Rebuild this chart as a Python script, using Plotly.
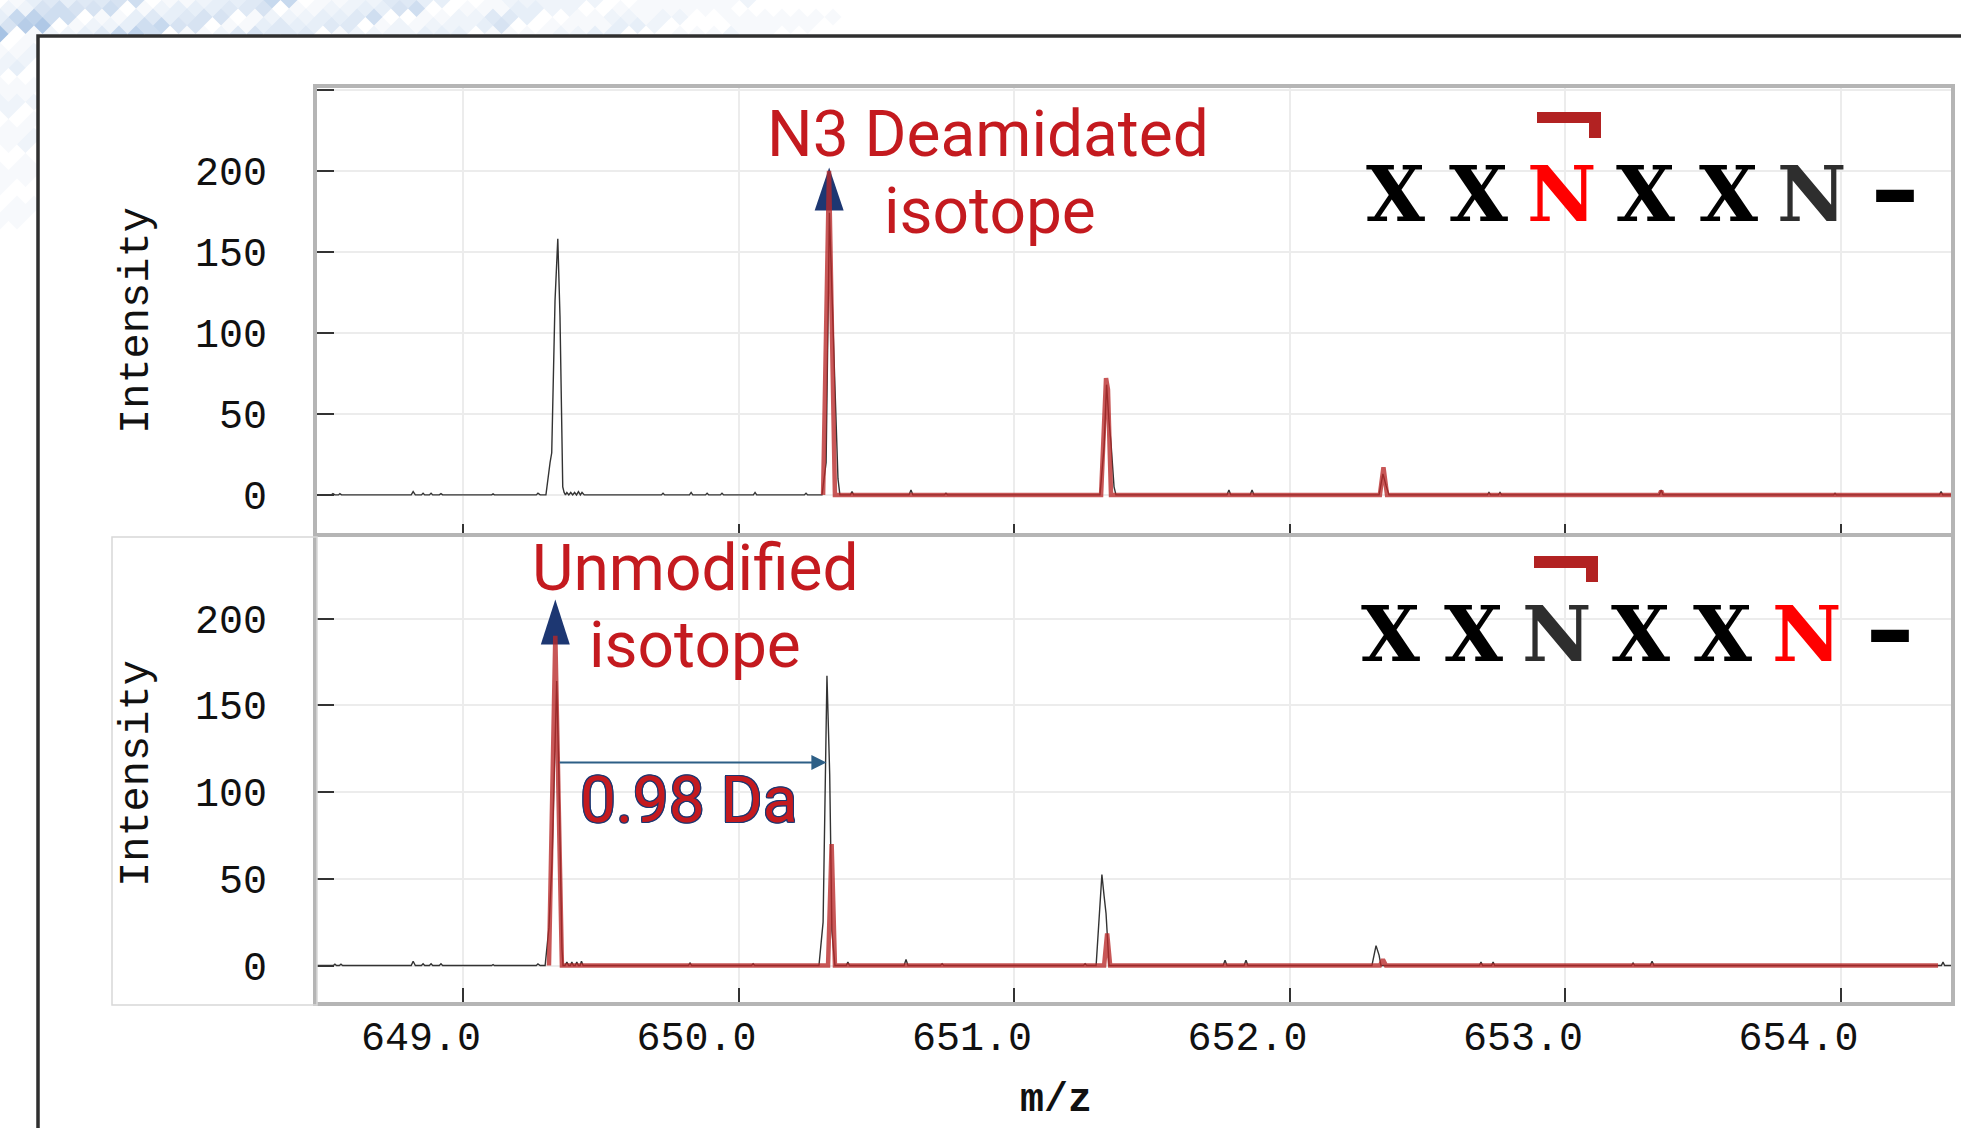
import plotly.graph_objects as go

W, H = 1961, 1128

# ---------------- data (m/z, intensity) ----------------
TOP_EXP = [
    (648.470, 0), (648.522, 0), (648.528, 0.8), (648.535, 0), (648.548, 0), (648.553, 0.8), (648.559, 0),
    (648.812, 0), (648.819, 2.0), (648.827, 0), (648.849, 0), (648.855, 1.0), (648.861, 0),
    (648.878, 0), (648.884, 1.0), (648.890, 0), (648.914, 0), (648.920, 0.8), (648.926, 0),
    (649.104, 0), (649.109, 0.6), (649.114, 0), (649.266, 0), (649.272, 1.0), (649.280, 0),
    (649.301, 0), (649.316, 20), (649.322, 26), (649.334, 120), (649.344, 158), (649.352, 110),
    (649.362, 5), (649.367, 1.5), (649.372, 0), (649.377, 1.5), (649.384, 0), (649.391, 1.5),
    (649.398, 0), (649.405, 1.5), (649.412, 0), (649.419, 2.0), (649.426, 0), (649.432, 1.5), (649.440, 0),
    (649.720, 0), (649.726, 1.0), (649.732, 0), (649.822, 0), (649.828, 1.5), (649.834, 0),
    (649.880, 0), (649.886, 1.0), (649.892, 0), (649.934, 0), (649.940, 1.0), (649.946, 0),
    (650.054, 0), (650.060, 1.5), (650.066, 0), (650.239, 0), (650.245, 1.0), (650.251, 0),
    (650.303, 0), (650.318, 20), (650.330, 174), (650.339, 120), (650.350, 67), (650.361, 10), (650.368, 0),
    (650.406, 0), (650.412, 2.0), (650.418, 0), (650.619, 0), (650.626, 3.0), (650.633, 0),
    (650.747, 0), (650.753, 1.0), (650.759, 0),
    (651.312, 0), (651.327, 30), (651.336, 68), (651.345, 45), (651.352, 32), (651.363, 5), (651.370, 0),
    (651.773, 0), (651.780, 3.0), (651.787, 0), (651.857, 0), (651.864, 3.0), (651.871, 0),
    (652.325, 0), (652.339, 13), (652.350, 6), (652.361, 0),
    (652.718, 0), (652.724, 1.5), (652.730, 0), (652.758, 0), (652.764, 1.5), (652.770, 0),
    (653.342, 0), (653.349, 3.0), (653.356, 0), (653.975, 0), (653.980, 1.0), (653.985, 0),
    (654.359, 0), (654.365, 2.0), (654.371, 0), (654.401, 0),
]
TOP_FIT = [
    (650.307, 0), (650.3285, 200), (650.350, 0),
    (651.316, 0), (651.334, 72), (651.341, 65), (651.352, 0),
    (652.328, 0), (652.341, 17), (652.354, 0),
    (653.343, 0), (653.349, 2.5), (653.355, 0), (654.401, 0),
]
BOT_EXP = [
    (648.470, 0), (648.529, 0), (648.535, 0.8), (648.541, 0), (648.551, 0), (648.557, 0.8), (648.563, 0),
    (648.812, 0), (648.819, 2.5), (648.827, 0), (648.849, 0), (648.855, 1.0), (648.861, 0),
    (648.878, 0), (648.884, 1.0), (648.890, 0), (648.914, 0), (648.920, 1.0), (648.926, 0),
    (649.104, 0), (649.109, 0.6), (649.114, 0), (649.266, 0), (649.272, 1.0), (649.280, 0),
    (649.298, 0), (649.312, 22), (649.323, 60), (649.340, 164), (649.348, 110), (649.359, 10), (649.363, 0),
    (649.370, 0), (649.377, 2.0), (649.384, 0), (649.390, 0), (649.395, 2.0), (649.401, 0),
    (649.407, 0), (649.413, 2.0), (649.419, 0), (649.425, 0), (649.430, 2.5), (649.436, 0),
    (649.818, 0), (649.824, 1.5), (649.830, 0), (650.047, 0), (650.053, 1.0), (650.059, 0),
    (650.292, 0), (650.307, 25), (650.321, 167), (650.331, 110), (650.339, 20), (650.350, 0),
    (650.391, 0), (650.397, 2.0), (650.403, 0), (650.601, 0), (650.608, 3.5), (650.615, 0),
    (650.733, 0), (650.739, 1.0), (650.745, 0),
    (651.252, 0), (651.258, 1.0), (651.264, 0),
    (651.298, 0), (651.309, 25), (651.319, 52.5), (651.327, 40), (651.334, 30), (651.345, 0),
    (651.759, 0), (651.766, 3.0), (651.773, 0), (651.835, 0), (651.842, 3.0), (651.849, 0),
    (652.299, 0), (652.314, 11.5), (652.325, 6), (652.332, 0),
    (652.689, 0), (652.695, 2.0), (652.701, 0), (652.733, 0), (652.739, 2.0), (652.745, 0),
    (653.241, 0), (653.247, 1.5), (653.253, 0), (653.309, 0), (653.316, 2.5), (653.323, 0),
    (654.366, 0), (654.372, 2.0), (654.378, 0), (654.401, 0),
]
BOT_FIT = [
    (649.312, 0), (649.335, 190), (649.359, 0),
    (650.325, 0), (650.338, 70), (650.350, 0),
    (651.327, 0), (651.338, 18.5), (651.349, 0),
    (652.328, 0), (652.339, 3.5), (652.350, 0), (654.354, 0),
]

X_RANGE = [648.470, 654.401]
TOP_Y_RANGE = [-23.5, 251]
BOT_Y_RANGE = [-21, 247]
X_TICKS = [649, 650, 651, 652, 653, 654]
X_TICK_LABELS = ["649.0", "650.0", "651.0", "652.0", "653.0", "654.0"]
Y_TICKS = [0, 50, 100, 150, 200, 250]
Y_TICK_LABELS = ["0", "50", "100", "150", "200", ""]

ARROW_MZ = [650.329, 649.335]       # peaks pointed at by the navy arrows
ARROW_TIP = [202, 211]
SHIFT_FROM, SHIFT_TO, SHIFT_Y = 649.345, 650.319, 117   # 0.98 Da arrow

SEQ_LETTERS = ["X", "X", "N", "X", "X", "N"]
SEQ_TOP_COLORS = ["#000000", "#000000", "#ff0000", "#000000", "#000000", "#2e2e2e"]
SEQ_BOT_COLORS = ["#000000", "#000000", "#2e2e2e", "#000000", "#000000", "#ff0000"]

# ---------------- helpers ----------------
def px(x):
    return x / W


def py(y):
    return 1 - y / H


def unzip(pairs):
    return [p[0] for p in pairs], [p[1] for p in pairs]


MONO = "Courier New, Liberation Mono, monospace"
RED_TXT = "#c41a1f"
NAVY = "#1d3772"

fig = go.Figure()

for (pairs, color, width, xa, ya) in [
    (TOP_EXP, "#333333", 1.4, "x", "y"),
    (TOP_FIT, "rgba(185,40,40,0.78)", 4.5, "x", "y"),
    (BOT_EXP, "#333333", 1.4, "x2", "y2"),
    (BOT_FIT, "rgba(185,40,40,0.78)", 4.5, "x2", "y2"),
]:
    mz, inten = unzip(pairs)
    fig.add_trace(go.Scatter(x=mz, y=inten, mode="lines", xaxis=xa, yaxis=ya,
                             line=dict(color=color, width=width, shape="linear"),
                             hoverinfo="skip", showlegend=False))

xdom = [px(317), px(1951)]
axis_common = dict(showline=True, mirror=True, linecolor="#b5b5b5", linewidth=4,
                   showgrid=True, gridcolor="#ececec", gridwidth=1.5, zeroline=False,
                   ticks="inside", tickcolor="#333333", tickwidth=1.5)
tickfont = dict(family=MONO, size=40, color="#111111")

fig.update_layout(
    width=W, height=H, autosize=False,
    margin=dict(l=0, r=0, t=0, b=0),
    paper_bgcolor="white", plot_bgcolor="#fbfbfb",
    xaxis=dict(domain=xdom, anchor="y", range=X_RANGE, tickvals=X_TICKS,
               showticklabels=False, ticklen=9, **axis_common),
    yaxis=dict(domain=[py(533), py(88)], anchor="x", range=TOP_Y_RANGE,
               tickvals=Y_TICKS, ticktext=Y_TICK_LABELS, ticklen=17,
               tickfont=tickfont, ticklabelstandoff=38, **axis_common),
    xaxis2=dict(domain=xdom, anchor="y2", range=X_RANGE, tickvals=X_TICKS,
                ticktext=X_TICK_LABELS, ticklen=14, tickfont=tickfont,
                ticklabelshift=-42, ticklabelstandoff=-4, **axis_common),
    yaxis2=dict(domain=[py(1002), py(537)], anchor="x2", range=BOT_Y_RANGE,
                tickvals=Y_TICKS, ticktext=Y_TICK_LABELS, ticklen=17,
                tickfont=tickfont, ticklabelstandoff=38, **axis_common),
)

shapes = []

# decorative mosaic in the top-left corner of the slide
levels = {}
size = 8.5
for r in range(0, 48):
    for c in range(0, 60):
        cx = c * 17 + (r % 2) * 8.5
        cy = r * 8.5
        if cy <= 40:
            fade = max(0.0, 1 - cx / 900)
            base = 0.38
        elif cx <= 40:
            fade = max(0.0, 1 - (cy - 40) / 260)
            base = 0.16
        else:
            continue
        a = (((c * 37 + r * 11) % 9) / 9.0) * base * fade
        if (c + r // 2) % 7 in (2, 3) and cy <= 40:
            a *= 1.6
        lvl = round(a * 20) / 20
        if lvl <= 0:
            continue
        p = (f"M{px(cx):.5f},{py(cy - size):.5f} L{px(cx + size):.5f},{py(cy):.5f} "
             f"L{px(cx):.5f},{py(cy + size):.5f} L{px(cx - size):.5f},{py(cy):.5f} Z ")
        levels.setdefault(lvl, []).append(p)
for lvl, parts in sorted(levels.items()):
    shapes.append(dict(type="path", xref="paper", yref="paper", path="".join(parts),
                       fillcolor=f"rgba(95,145,205,{min(lvl, 0.7)})", line=dict(width=0),
                       layer="below"))

# white slide area and frame
shapes.append(dict(type="rect", xref="paper", yref="paper", x0=px(38), x1=1.01, y0=-0.01, y1=py(36),
                   fillcolor="white", line=dict(width=0), layer="below"))
shapes.append(dict(type="path", xref="paper", yref="paper",
                   path=f"M{px(38)},{py(1140)} L{px(38)},{py(36)} L{px(1975)},{py(36)}",
                   line=dict(color="#2f2f2f", width=3.5)))
# light box around the lower y axis labels
shapes.append(dict(type="rect", xref="paper", yref="paper", x0=px(112), x1=px(317),
                   y0=py(1005), y1=py(537), line=dict(color="#d8d8d8", width=1.5)))

# navy arrowheads
for xa, ya, mz, tip, h in [("x", "y", ARROW_MZ[0], ARROW_TIP[0], 43),
                           ("x2", "y2", ARROW_MZ[1], ARROW_TIP[1], 45)]:
    shapes.append(dict(type="path", xref=xa, yref=ya, xsizemode="pixel", ysizemode="pixel",
                       xanchor=mz, yanchor=tip, path=f"M-14.5,-{h} L14.5,-{h} L0,0 Z",
                       fillcolor=NAVY, line=dict(width=0), layer="between"))

# brackets over the deamidation site
for (x0, x1, xd, y0, y1, yd) in [(1537, 1601, 1589, 112, 123, 138),
                                 (1534, 1598, 1586, 556, 568, 582)]:
    shapes.append(dict(type="path", xref="paper", yref="paper",
                       path=(f"M{px(x0)},{py(y0)} L{px(x1)},{py(y0)} L{px(x1)},{py(yd)} "
                             f"L{px(xd)},{py(yd)} L{px(xd)},{py(y1)} L{px(x0)},{py(y1)} Z"),
                       fillcolor="#b22222", line=dict(width=0)))

ann = []


def text(x, y, s, font, **kw):
    d = dict(xref="paper", yref="paper", x=px(x), y=py(y), text=s, showarrow=False,
             xanchor="center", yanchor="middle", font=font)
    d.update(kw)
    ann.append(d)


roboto = dict(family="Roboto", size=64, color=RED_TXT)
text(988, 135, "N3 Deamidated", roboto)
text(990, 211, "isotope", roboto)
text(695, 568, "Unmodified", roboto)
text(695, 645, "isotope", roboto)
outline = ", ".join(f"{dx}px {dy}px 0 {NAVY}" for dx, dy in
                    [(1.2, 0), (-1.2, 0), (0, 1.2), (0, -1.2), (1, 1), (-1, 1), (1, -1), (-1, -1)])
text(688, 800, "0.98 Da", dict(family="Roboto", size=64, color=RED_TXT, shadow=outline))

# axis titles
text(137, 321, "Intensity", dict(family=MONO, size=42, color="#111111"), textangle=-90)
text(137, 774, "Intensity", dict(family=MONO, size=42, color="#111111"), textangle=-90)
text(1056, 1100, "m/z", dict(family=MONO, size=40, color="#111111", weight="bold"))

# peptide sequences
top_x = [1395, 1478, 1561, 1645, 1728, 1811.5]
bot_x = [1390, 1473, 1556, 1640, 1722.5, 1806]
for i, ch in enumerate(SEQ_LETTERS):
    text(top_x[i], 194, ch, dict(family="DejaVu Serif", size=76, color=SEQ_TOP_COLORS[i], weight="bold"))
    text(bot_x[i], 634, ch, dict(family="DejaVu Serif", size=76, color=SEQ_BOT_COLORS[i], weight="bold"))
text(1895, 189, "\u2013", dict(family="DejaVu Sans", size=96, color="#000000", weight="bold"))
text(1889.5, 629, "\u2013", dict(family="DejaVu Sans", size=96, color="#000000", weight="bold"))

# 0.98 Da spacing arrow
ann.append(dict(xref="x2", yref="y2", axref="x2", ayref="y2", x=SHIFT_TO, y=SHIFT_Y,
                ax=SHIFT_FROM, ay=SHIFT_Y, text="", showarrow=True, arrowhead=2,
                arrowsize=1.5, arrowwidth=2, arrowcolor="#2d5f86", standoff=0))

fig.update_layout(shapes=shapes, annotations=ann)

fig.write_html("out.html", config={"displayModeBar": False},
               post_script="document.body.style.margin='0';document.body.style.overflow='hidden';")
